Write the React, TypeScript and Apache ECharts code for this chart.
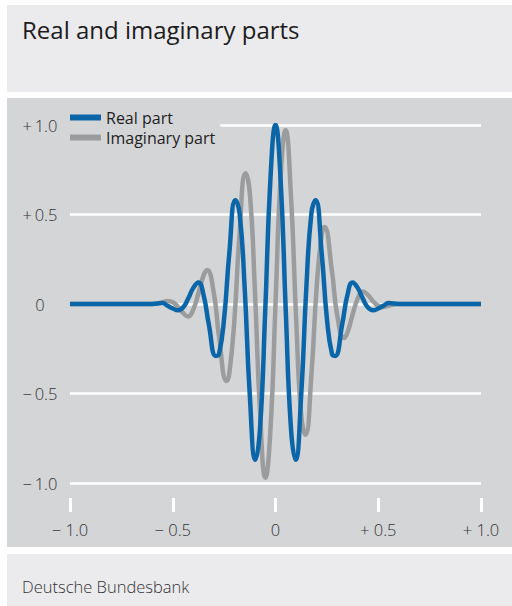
import React, { useEffect, useRef } from "react";
import * as echarts from "echarts";

const title = "Real and imaginary parts";
const source = "Deutsche Bundesbank";
const seriesNames = ["Real part", "Imaginary part"];

const xTickLabels = ["\u2212 1.0", "\u2212 0.5", "0", "+ 0.5", "+ 1.0"];
const yTickLabels = ["\u2212\u20091.0", "\u2212\u20090.5", "0", "+\u20090.5", "+\u20091.0"];

const realX = [
  -1.0, -0.8, -0.6, -0.55, -0.525, -0.5, -0.475, -0.45, -0.425, -0.4, -0.375, -0.35, -0.325,
  -0.29, -0.275, -0.25, -0.225, -0.195, -0.175, -0.15, -0.125, -0.0976, -0.075, -0.05, -0.025,
  0,
  0.025, 0.05, 0.075, 0.0976, 0.125, 0.15, 0.175, 0.195, 0.225, 0.25, 0.275, 0.29, 0.325,
  0.35, 0.375, 0.4, 0.425, 0.45, 0.475, 0.5, 0.525, 0.55, 0.6, 0.8, 1.0,
];
const realY = [
  0, 0, 0, 0.005, -0.01, -0.025, -0.035, -0.02, 0.03, 0.09, 0.12, 0.05, -0.11,
  -0.29, -0.28, -0.08, 0.28, 0.58, 0.51, 0.09, -0.51, -0.87, -0.69, -0.04, 0.69,
  1.0,
  0.69, -0.04, -0.69, -0.87, -0.51, 0.09, 0.51, 0.58, 0.28, -0.08, -0.28, -0.29, -0.11,
  0.05, 0.12, 0.09, 0.03, -0.02, -0.035, -0.025, -0.01, 0.005, 0, 0, 0,
];

const imagX = [
  -1.0, -0.8, -0.6, -0.55, -0.525, -0.5, -0.475, -0.45, -0.425, -0.4, -0.375, -0.35, -0.333,
  -0.3, -0.275, -0.238, -0.225, -0.2, -0.175, -0.146, -0.125, -0.1, -0.075, -0.049, -0.025,
  0,
  0.025, 0.049, 0.075, 0.1, 0.125, 0.146, 0.175, 0.2, 0.225, 0.238, 0.275, 0.3, 0.333,
  0.35, 0.375, 0.4, 0.425, 0.45, 0.475, 0.5, 0.525, 0.55, 0.6, 0.8, 1.0,
];
const imagY = [
  0, 0, 0, 0.01, 0.017, 0.01, -0.015, -0.05, -0.07, -0.03, 0.06, 0.16, 0.19,
  0.06, -0.18, -0.43, -0.39, -0.09, 0.39, 0.73, 0.62, 0.07, -0.61, -0.97, -0.71,
  0,
  0.71, 0.97, 0.61, -0.07, -0.62, -0.73, -0.39, 0.09, 0.39, 0.43, 0.18, -0.06, -0.19,
  -0.16, -0.06, 0.03, 0.07, 0.05, 0.015, -0.01, -0.017, -0.01, 0, 0, 0,
];

const FONT = "'Open Sans', 'Noto Sans', sans-serif";
const BLUE = "#0a66a8";
const GRAY = "#9b9c9e";
const PANEL_LIGHT = "#ebebed";
const PANEL_DARK = "#d4d5d7";

function tickIndex(v: number) {
  return Math.round((v + 1) / 0.5);
}

export default function App() {
  const ref = useRef<HTMLDivElement>(null);

  useEffect(() => {
    document.body.style.margin = "0";
    if (!ref.current) return;
    const chart = echarts.init(ref.current, undefined, { renderer: "svg" });
    const option = {
      animation: false,
      backgroundColor: "#ffffff",
      graphic: [
        { type: "rect", z: -100, shape: { x: 7, y: 5, width: 505, height: 87 }, style: { fill: PANEL_LIGHT } },
        { type: "rect", z: -100, shape: { x: 7, y: 98, width: 505, height: 449 }, style: { fill: PANEL_DARK } },
        { type: "rect", z: -100, shape: { x: 7, y: 554, width: 505, height: 52 }, style: { fill: PANEL_LIGHT } },
        {
          type: "text", z: 10, x: 22, y: 17,
          style: { text: title, fill: "#1c1c1c", font: `24px ${FONT}`, textVerticalAlign: "top" },
        },
        {
          type: "text", z: 10, x: 22, y: 578,
          style: { text: source, fill: "#333333", font: `300 16.5px ${FONT}`, textVerticalAlign: "top" },
        },
      ],
      grid: { left: 70, right: 31, top: 125, bottom: 123 },
      legend: {
        data: seriesNames,
        orient: "vertical",
        left: 65,
        top: 103,
        padding: 5,
        itemGap: 1,
        itemWidth: 31,
        itemHeight: 6,
        icon: "rect",
        backgroundColor: PANEL_DARK,
        textStyle: { fontSize: 16, lineHeight: 19, fontWeight: 500, color: "#1e1e1e", fontFamily: FONT },
      },
      xAxis: {
        type: "value",
        min: -1,
        max: 1,
        interval: 0.5,
        offset: 15,
        axisLine: { show: false, onZero: false },
        axisTick: { show: true, length: 14, lineStyle: { color: "#ffffff", width: 3 } },
        splitLine: { show: false },
        axisLabel: {
          formatter: (v: number) => xTickLabels[tickIndex(v)],
          fontSize: 16.5,
          fontWeight: 300,
          color: "#333333",
          fontFamily: FONT,
          margin: 23,
        },
      },
      yAxis: {
        type: "value",
        min: -1,
        max: 1,
        interval: 0.5,
        axisLine: { show: false },
        axisTick: { show: false },
        splitLine: { lineStyle: { color: "#ffffff", width: 2.5 } },
        axisLabel: {
          formatter: (v: number) => yTickLabels[tickIndex(v)],
          fontSize: 16.5,
          fontWeight: 300,
          color: "#333333",
          fontFamily: FONT,
          align: "center",
          margin: 30,
        },
      },
      series: [
        {
          name: "Imaginary part",
          type: "line",
          data: imagX.map((x, i) => [x, imagY[i]]),
          showSymbol: false,
          smooth: true,
          lineStyle: { color: GRAY, width: 4.5 },
          itemStyle: { color: GRAY },
          z: 2,
        },
        {
          name: "Real part",
          type: "line",
          data: realX.map((x, i) => [x, realY[i]]),
          showSymbol: false,
          smooth: true,
          lineStyle: { color: BLUE, width: 4.5 },
          itemStyle: { color: BLUE },
          z: 3,
        },
      ],
    };
    chart.setOption(option as any);
    return () => chart.dispose();
  }, []);

  return <div ref={ref} style={{ width: 512, height: 606 }} />;
}
